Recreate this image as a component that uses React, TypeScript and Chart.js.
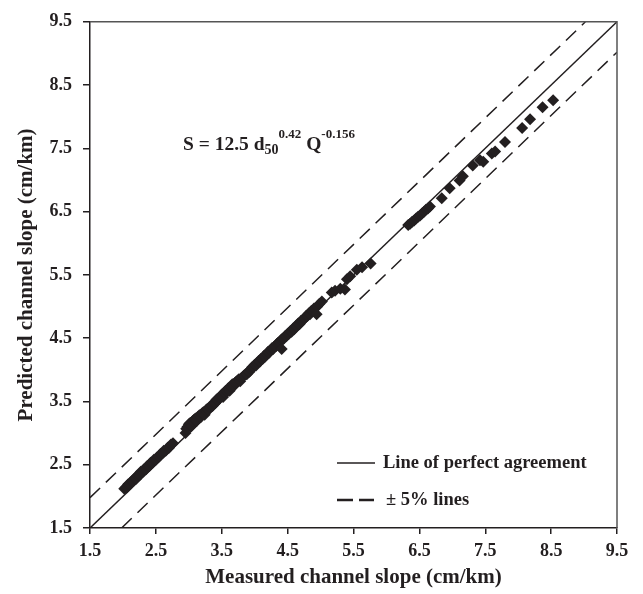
import React, { useEffect, useRef } from "react";
import { Chart, registerables } from "chart.js";

Chart.register(...registerables);

const INK = "#231f20";
const FONT = "'Liberation Serif', 'Times New Roman', serif";

const TICKS = [1.5, 2.5, 3.5, 4.5, 5.5, 6.5, 7.5, 8.5, 9.5];
const AXIS_MIN = 1.5;
const AXIS_MAX = 9.5;
const BAND = 0.48;

const MEASURED = [
  2.02, 2.04, 2.06, 2.08, 2.10, 2.13, 2.15, 2.18, 2.20, 2.22, 2.25, 2.27, 2.30, 2.32, 2.35, 2.37, 2.40, 2.42, 2.45, 2.47,
  2.50, 2.52, 2.55, 2.57, 2.60, 2.62, 2.65, 2.68, 2.70, 2.73, 2.76,
  2.95, 2.96, 2.98, 3.00, 3.02, 3.04, 3.06, 3.08, 3.10, 3.12, 3.14, 3.16, 3.18, 3.20, 3.22, 3.24, 3.26, 3.28, 3.30, 3.32,
  3.34, 3.36, 3.38, 3.40, 3.42, 3.44, 3.46, 3.48, 3.50, 3.52, 3.54, 3.56, 3.58, 3.60, 3.62, 3.64, 3.66, 3.68, 3.70, 3.72,
  3.74, 3.76, 3.78, 3.80, 3.82, 3.84, 3.86, 3.88, 3.90, 3.92, 3.94, 3.96, 3.98, 4.00, 4.02, 4.04, 4.06, 4.08, 4.10, 4.12,
  4.14, 4.16, 4.18, 4.20, 4.22, 4.24, 4.26, 4.28, 4.30, 4.32, 4.34, 4.36, 4.38, 4.40, 4.41, 4.42, 4.44, 4.46, 4.48, 4.50,
  4.52, 4.54, 4.56, 4.58, 4.60, 4.62, 4.64, 4.66, 4.68, 4.70, 4.72, 4.74, 4.76, 4.78, 4.80, 4.82, 4.84, 4.86, 4.88, 4.90,
  4.94, 4.95, 4.98, 5.02,
  5.17, 5.22, 5.30, 5.37, 5.40, 5.45, 5.55, 5.63, 5.76,
  6.33, 6.36, 6.39, 6.42, 6.45, 6.48, 6.51, 6.54, 6.57, 6.60, 6.63, 6.66,
  6.84, 6.96, 7.11, 7.16, 7.31, 7.42, 7.47, 7.60, 7.65, 7.80, 8.06, 8.18, 8.37, 8.53,
];

const PREDICTED = [
  2.12, 2.14, 2.14, 2.19, 2.20, 2.24, 2.24, 2.29, 2.28, 2.33, 2.34, 2.39, 2.39, 2.43, 2.43, 2.48, 2.48, 2.53, 2.53, 2.58,
  2.58, 2.62, 2.63, 2.67, 2.68, 2.72, 2.72, 2.77, 2.77, 2.82, 2.84,
  3.00, 3.07, 3.10, 3.14, 3.16, 3.11, 3.19, 3.21, 3.23, 3.19, 3.26, 3.28, 3.25, 3.31, 3.33, 3.29, 3.36, 3.38, 3.37, 3.41,
  3.44, 3.43, 3.47, 3.47, 3.53, 3.52, 3.56, 3.57, 3.61, 3.57, 3.64, 3.67, 3.66, 3.71, 3.67, 3.74, 3.77, 3.74, 3.79, 3.81,
  3.83, 3.85, 3.82, 3.87, 3.89, 3.91, 3.93, 3.93, 3.97, 3.97, 4.01, 4.04, 4.04, 4.08, 4.07, 4.11, 4.14, 4.13, 4.18, 4.17,
  4.22, 4.21, 4.25, 4.28, 4.27, 4.31, 4.34, 4.33, 4.37, 4.37, 4.41, 4.43, 4.43, 4.47, 4.33, 4.49, 4.49, 4.53, 4.53, 4.57,
  4.57, 4.61, 4.60, 4.65, 4.64, 4.69, 4.69, 4.73, 4.72, 4.77, 4.77, 4.80, 4.81, 4.85, 4.85, 4.89, 4.88, 4.93, 4.93, 4.97,
  4.88, 5.00, 5.04, 5.08,
  5.22, 5.25, 5.28, 5.27, 5.43, 5.48, 5.58, 5.62, 5.68,
  6.29, 6.31, 6.34, 6.36, 6.39, 6.42, 6.44, 6.47, 6.50, 6.53, 6.55, 6.58,
  6.71, 6.87, 6.99, 7.06, 7.23, 7.31, 7.29, 7.42, 7.45, 7.60, 7.82, 7.96, 8.15, 8.26,
];

const X_TITLE = "Measured channel slope (cm/km)";
const Y_TITLE = "Predicted channel slope (cm/km)";
const LEGEND_SOLID = "Line of perfect agreement";
const LEGEND_DASHED = "\u00b1 5% lines";

const framePlugin = {
  id: "frame",
  afterDraw(chart: any) {
    const { ctx, chartArea } = chart;
    const { left, right, top, bottom } = chartArea;
    ctx.save();
    ctx.strokeStyle = "#555";
    ctx.lineWidth = 1.5;
    ctx.beginPath();
    ctx.moveTo(left, top);
    ctx.lineTo(right, top);
    ctx.lineTo(right, bottom);
    ctx.stroke();

    // equation
    ctx.fillStyle = INK;
    ctx.textBaseline = "alphabetic";
    ctx.textAlign = "left";
    let x = left + 93;
    const base = top + 128;
    const put = (t: string, size: number, dy: number) => {
      ctx.font = `bold ${size}px ${FONT}`;
      ctx.fillText(t, x, base + dy);
      x += ctx.measureText(t).width;
    };
    put("S = 12.5 d", 19.5, 0);
    put("50", 14, 4);
    put("0.42", 13, -12);
    put(" Q", 19.5, 0);
    put("-0.156", 13, -12);

    // legend
    const lx = left + 247;
    const y1 = bottom - 65;
    const y2 = bottom - 28;
    ctx.strokeStyle = INK;
    ctx.lineWidth = 1.5;
    ctx.setLineDash([]);
    ctx.beginPath();
    ctx.moveTo(lx, y1);
    ctx.lineTo(lx + 38, y1);
    ctx.stroke();
    ctx.lineWidth = 2.5;
    ctx.setLineDash([16, 6]);
    ctx.beginPath();
    ctx.moveTo(lx, y2);
    ctx.lineTo(lx + 37, y2);
    ctx.stroke();
    ctx.setLineDash([]);
    ctx.font = `bold 18.5px ${FONT}`;
    ctx.textBaseline = "middle";
    ctx.fillText(LEGEND_SOLID, lx + 46, y1);
    ctx.fillText(LEGEND_DASHED, lx + 49, y2);
    ctx.restore();
  },
};

export default function App() {
  const ref = useRef<HTMLCanvasElement | null>(null);

  useEffect(() => {
    if (!ref.current) return;
    const points = MEASURED.map((m, i) => ({ x: m, y: PREDICTED[i] }));
    const chart = new Chart(ref.current, {
      type: "scatter",
      data: {
        datasets: [
          {
            label: "Data",
            data: points,
            pointStyle: "rectRot",
            pointRadius: 6,
            backgroundColor: INK,
            borderWidth: 0,
            showLine: false,
          },
          {
            label: "Perfect",
            data: [
              { x: AXIS_MIN, y: AXIS_MIN },
              { x: AXIS_MAX, y: AXIS_MAX },
            ],
            showLine: true,
            borderColor: INK,
            borderWidth: 1.5,
            pointRadius: 0,
          },
          {
            label: "Upper",
            data: [
              { x: AXIS_MIN, y: AXIS_MIN + BAND },
              { x: AXIS_MAX - BAND, y: AXIS_MAX },
            ],
            showLine: true,
            borderColor: INK,
            borderWidth: 1.5,
            borderDash: [14, 8],
            pointRadius: 0,
          },
          {
            label: "Lower",
            data: [
              { x: AXIS_MIN + BAND, y: AXIS_MIN },
              { x: AXIS_MAX, y: AXIS_MAX - BAND },
            ],
            showLine: true,
            borderColor: INK,
            borderWidth: 1.5,
            borderDash: [14, 8],
            pointRadius: 0,
          },
        ],
      },
      options: {
        animation: false,
        responsive: false,
        layout: { padding: { top: 17, right: 26, left: 0, bottom: 0 } },
        plugins: { legend: { display: false }, tooltip: { enabled: false } },
        scales: {
          x: {
            type: "linear",
            min: AXIS_MIN,
            max: AXIS_MAX,
            afterBuildTicks: (s: any) => {
              s.ticks = TICKS.map((v) => ({ value: v }));
            },
            afterFit: (s: any) => {
              s.height = 66;
            },
            ticks: {
              color: INK,
              font: { family: FONT, size: 18, weight: "bold" },
              padding: 7,
              maxRotation: 0,
              callback: (v: any) => Number(v).toFixed(1),
            },
            grid: { drawOnChartArea: false, drawTicks: true, tickLength: 6, color: INK, lineWidth: 1.5 },
            border: { display: true, color: INK, width: 1.5 },
            title: {
              display: true,
              text: X_TITLE,
              color: INK,
              font: { family: FONT, size: 21, weight: "bold" },
              padding: { top: 0, bottom: 4 },
            },
          },
          y: {
            type: "linear",
            min: AXIS_MIN,
            max: AXIS_MAX,
            afterBuildTicks: (s: any) => {
              s.ticks = TICKS.map((v) => ({ value: v }));
            },
            afterFit: (s: any) => {
              s.width = 90;
            },
            ticks: {
              color: INK,
              font: { family: FONT, size: 18, weight: "bold" },
              padding: 11,
              callback: (v: any) => Number(v).toFixed(1),
            },
            grid: { drawOnChartArea: false, drawTicks: true, tickLength: 7, color: INK, lineWidth: 1.5 },
            border: { display: true, color: INK, width: 1.5 },
            title: {
              display: true,
              text: Y_TITLE,
              color: INK,
              font: { family: FONT, size: 21, weight: "bold" },
              padding: { top: 14, bottom: 0 },
            },
          },
        },
      },
      plugins: [framePlugin],
    });
    return () => chart.destroy();
  }, []);

  return (
    <div style={{ position: "fixed", left: 0, top: 0, width: 643, height: 594, background: "#fff" }}>
      <canvas ref={ref} width={643} height={594} style={{ display: "block" }} />
    </div>
  );
}
